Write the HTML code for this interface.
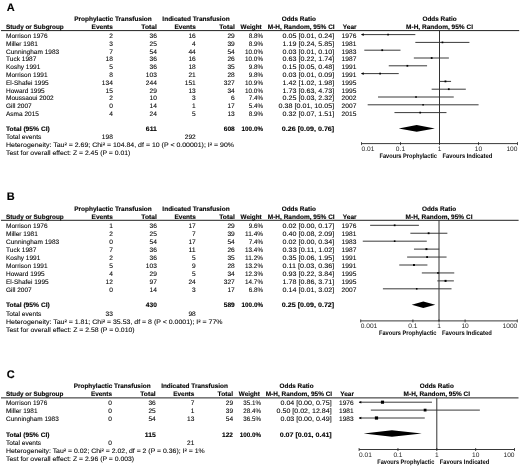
<!DOCTYPE html>
<html><head><meta charset="utf-8"><style>
html,body{margin:0;padding:0;background:#fff;}
body{width:520px;height:466px;overflow:hidden;}
svg{display:block;will-change:transform;font-family:"Liberation Sans",sans-serif;}
text{stroke:#000;stroke-width:0.08px;text-rendering:geometricPrecision;}
text[font-weight=bold]{stroke-width:0.12px;}
text.lt{stroke-width:0;fill:#222;}
text.fv{stroke-width:0;}
</style></head><body>
<svg width="520" height="466" viewBox="0 0 520 466">
<rect width="520" height="466" fill="#fff"/>
<line x1="1.00" y1="30.60" x2="519.20" y2="30.60" stroke="#222" stroke-width="1"/>
<line x1="361.50" y1="34.60" x2="415.33" y2="34.60" stroke="#3a3a3a" stroke-width="1.0"/>
<polygon points="361.10,34.60 363.70,33.30 363.70,35.90" fill="#000"/>
<rect x="387.23" y="33.76" width="1.68" height="1.68" fill="#000"/>
<line x1="415.33" y1="42.40" x2="469.42" y2="42.40" stroke="#3a3a3a" stroke-width="1.0"/>
<rect x="441.60" y="41.56" width="1.69" height="1.69" fill="#000"/>
<line x1="364.30" y1="50.20" x2="400.50" y2="50.20" stroke="#3a3a3a" stroke-width="1.0"/>
<rect x="381.35" y="49.33" width="1.75" height="1.75" fill="#000"/>
<line x1="413.85" y1="58.00" x2="448.88" y2="58.00" stroke="#3a3a3a" stroke-width="1.0"/>
<rect x="430.80" y="57.12" width="1.75" height="1.75" fill="#000"/>
<line x1="388.76" y1="65.80" x2="427.07" y2="65.80" stroke="#3a3a3a" stroke-width="1.0"/>
<rect x="406.50" y="64.93" width="1.74" height="1.74" fill="#000"/>
<line x1="361.50" y1="73.60" x2="398.72" y2="73.60" stroke="#3a3a3a" stroke-width="1.0"/>
<polygon points="361.10,73.60 363.70,72.30 363.70,74.90" fill="#000"/>
<rect x="379.24" y="72.73" width="1.74" height="1.74" fill="#000"/>
<line x1="439.84" y1="81.40" x2="451.07" y2="81.40" stroke="#3a3a3a" stroke-width="1.0"/>
<rect x="444.54" y="80.50" width="1.80" height="1.80" fill="#000"/>
<line x1="431.67" y1="89.20" x2="465.82" y2="89.20" stroke="#3a3a3a" stroke-width="1.0"/>
<rect x="447.91" y="88.33" width="1.75" height="1.75" fill="#000"/>
<line x1="378.01" y1="97.00" x2="453.75" y2="97.00" stroke="#3a3a3a" stroke-width="1.0"/>
<rect x="415.22" y="96.20" width="1.61" height="1.61" fill="#000"/>
<line x1="367.68" y1="104.80" x2="478.58" y2="104.80" stroke="#3a3a3a" stroke-width="1.0"/>
<rect x="422.36" y="104.05" width="1.50" height="1.50" fill="#000"/>
<line x1="394.46" y1="112.60" x2="446.48" y2="112.60" stroke="#3a3a3a" stroke-width="1.0"/>
<rect x="419.36" y="111.76" width="1.69" height="1.69" fill="#000"/>
<polygon points="398.72,128.40 416.68,125.10 434.85,128.40 416.68,131.70" fill="#000"/>
<line x1="439.50" y1="30.60" x2="439.50" y2="143.60" stroke="#333" stroke-width="1.0"/>
<line x1="361.50" y1="143.60" x2="517.50" y2="143.60" stroke="#222" stroke-width="0.9"/>
<line x1="361.50" y1="142.10" x2="361.50" y2="145.10" stroke="#222" stroke-width="0.8"/>
<line x1="400.50" y1="142.10" x2="400.50" y2="145.10" stroke="#222" stroke-width="0.8"/>
<line x1="439.50" y1="142.10" x2="439.50" y2="145.10" stroke="#222" stroke-width="0.8"/>
<line x1="478.50" y1="142.10" x2="478.50" y2="145.10" stroke="#222" stroke-width="0.8"/>
<line x1="517.50" y1="142.10" x2="517.50" y2="145.10" stroke="#222" stroke-width="0.8"/>
<line x1="1.00" y1="220.30" x2="518.60" y2="220.30" stroke="#222" stroke-width="1"/>
<line x1="370.14" y1="225.30" x2="418.91" y2="225.30" stroke="#3a3a3a" stroke-width="1.0"/>
<rect x="393.79" y="224.44" width="1.73" height="1.73" fill="#000"/>
<line x1="410.37" y1="233.24" x2="447.36" y2="233.24" stroke="#3a3a3a" stroke-width="1.0"/>
<rect x="427.70" y="232.33" width="1.83" height="1.83" fill="#000"/>
<line x1="362.77" y1="241.18" x2="426.77" y2="241.18" stroke="#3a3a3a" stroke-width="1.0"/>
<rect x="393.85" y="240.38" width="1.61" height="1.61" fill="#000"/>
<line x1="413.98" y1="249.12" x2="439.22" y2="249.12" stroke="#3a3a3a" stroke-width="1.0"/>
<rect x="425.46" y="248.15" width="1.94" height="1.94" fill="#000"/>
<line x1="407.11" y1="257.06" x2="446.57" y2="257.06" stroke="#3a3a3a" stroke-width="1.0"/>
<rect x="426.19" y="256.15" width="1.82" height="1.82" fill="#000"/>
<line x1="399.25" y1="265.00" x2="427.42" y2="265.00" stroke="#3a3a3a" stroke-width="1.0"/>
<rect x="413.02" y="264.04" width="1.93" height="1.93" fill="#000"/>
<line x1="421.84" y1="272.94" x2="454.25" y2="272.94" stroke="#3a3a3a" stroke-width="1.0"/>
<rect x="437.24" y="272.00" width="1.88" height="1.88" fill="#000"/>
<line x1="437.29" y1="280.88" x2="453.86" y2="280.88" stroke="#3a3a3a" stroke-width="1.0"/>
<rect x="444.53" y="279.88" width="2.01" height="2.01" fill="#000"/>
<line x1="382.92" y1="288.82" x2="451.53" y2="288.82" stroke="#3a3a3a" stroke-width="1.0"/>
<rect x="415.93" y="288.03" width="1.57" height="1.57" fill="#000"/>
<polygon points="411.71,304.70 423.29,301.40 435.28,304.70 423.29,308.00" fill="#000"/>
<line x1="439.00" y1="220.30" x2="439.00" y2="320.90" stroke="#333" stroke-width="1.0"/>
<line x1="360.70" y1="320.90" x2="517.30" y2="320.90" stroke="#222" stroke-width="0.9"/>
<line x1="360.70" y1="319.40" x2="360.70" y2="322.40" stroke="#222" stroke-width="0.8"/>
<line x1="412.90" y1="319.40" x2="412.90" y2="322.40" stroke="#222" stroke-width="0.8"/>
<line x1="439.00" y1="319.40" x2="439.00" y2="322.40" stroke="#222" stroke-width="0.8"/>
<line x1="465.10" y1="319.40" x2="465.10" y2="322.40" stroke="#222" stroke-width="0.8"/>
<line x1="517.30" y1="319.40" x2="517.30" y2="322.40" stroke="#222" stroke-width="0.8"/>
<line x1="1.00" y1="397.90" x2="518.50" y2="397.90" stroke="#222" stroke-width="1"/>
<line x1="359.10" y1="402.20" x2="431.95" y2="402.20" stroke="#3a3a3a" stroke-width="1.0"/>
<polygon points="358.70,402.20 361.30,400.90 361.30,403.50" fill="#000"/>
<rect x="380.92" y="400.63" width="3.13" height="3.13" fill="#000"/>
<line x1="370.80" y1="410.10" x2="479.87" y2="410.10" stroke="#3a3a3a" stroke-width="1.0"/>
<rect x="423.72" y="408.72" width="2.76" height="2.76" fill="#000"/>
<line x1="359.10" y1="418.00" x2="424.76" y2="418.00" stroke="#3a3a3a" stroke-width="1.0"/>
<polygon points="358.70,418.00 361.30,416.70 361.30,419.30" fill="#000"/>
<rect x="374.87" y="416.40" width="3.21" height="3.21" fill="#000"/>
<polygon points="363.66,433.50 391.93,430.20 421.76,433.50 391.93,436.80" fill="#000"/>
<line x1="436.80" y1="397.90" x2="436.80" y2="449.50" stroke="#333" stroke-width="1.0"/>
<line x1="359.10" y1="449.50" x2="514.50" y2="449.50" stroke="#222" stroke-width="0.9"/>
<line x1="359.10" y1="448.00" x2="359.10" y2="451.00" stroke="#222" stroke-width="0.8"/>
<line x1="397.95" y1="448.00" x2="397.95" y2="451.00" stroke="#222" stroke-width="0.8"/>
<line x1="436.80" y1="448.00" x2="436.80" y2="451.00" stroke="#222" stroke-width="0.8"/>
<line x1="475.65" y1="448.00" x2="475.65" y2="451.00" stroke="#222" stroke-width="0.8"/>
<line x1="514.50" y1="448.00" x2="514.50" y2="451.00" stroke="#222" stroke-width="0.8"/>
<g>
<text x="6.70" y="10.70" font-size="11" font-weight="bold" textLength="7.94" lengthAdjust="spacingAndGlyphs" fill="#000">A</text>
<text x="113.00" y="20.90" font-size="6.5" text-anchor="middle" font-weight="bold" textLength="77.50" lengthAdjust="spacingAndGlyphs" fill="#000">Prophylactic Transfusion</text>
<text x="196.00" y="20.90" font-size="6.5" text-anchor="middle" font-weight="bold" textLength="67.30" lengthAdjust="spacingAndGlyphs" fill="#000">Indicated Transfusion</text>
<text x="298.80" y="20.90" font-size="6.5" text-anchor="middle" font-weight="bold" textLength="34.20" lengthAdjust="spacingAndGlyphs" fill="#000">Odds Ratio</text>
<text x="439.50" y="20.90" font-size="6.5" text-anchor="middle" font-weight="bold" textLength="34.20" lengthAdjust="spacingAndGlyphs" fill="#000">Odds Ratio</text>
<text x="6.00" y="28.80" font-size="6.5" font-weight="bold" textLength="57.70" lengthAdjust="spacingAndGlyphs" fill="#000">Study or Subgroup</text>
<text x="112.90" y="28.80" font-size="6.5" text-anchor="end" font-weight="bold" textLength="21.32" lengthAdjust="spacingAndGlyphs" fill="#000">Events</text>
<text x="156.90" y="28.80" font-size="6.5" text-anchor="end" font-weight="bold" textLength="15.53" lengthAdjust="spacingAndGlyphs" fill="#000">Total</text>
<text x="195.80" y="28.80" font-size="6.5" text-anchor="end" font-weight="bold" textLength="21.32" lengthAdjust="spacingAndGlyphs" fill="#000">Events</text>
<text x="234.80" y="28.80" font-size="6.5" text-anchor="end" font-weight="bold" textLength="15.53" lengthAdjust="spacingAndGlyphs" fill="#000">Total</text>
<text x="240.60" y="28.80" font-size="6.5" font-weight="bold" textLength="21.10" lengthAdjust="spacingAndGlyphs" fill="#000">Weight</text>
<text x="301.20" y="28.80" font-size="6.5" text-anchor="middle" font-weight="bold" textLength="66.90" lengthAdjust="spacingAndGlyphs" fill="#000">M-H, Random, 95% CI</text>
<text x="342.80" y="28.80" font-size="6.5" font-weight="bold" textLength="13.80" lengthAdjust="spacingAndGlyphs" fill="#000">Year</text>
<text x="439.50" y="28.80" font-size="6.5" text-anchor="middle" font-weight="bold" textLength="66.90" lengthAdjust="spacingAndGlyphs" fill="#000">M-H, Random, 95% CI</text>
<text x="6.00" y="37.90" font-size="6.5" textLength="41.55" lengthAdjust="spacingAndGlyphs" fill="#000">Morrison 1976</text>
<text x="112.90" y="37.90" font-size="6.5" text-anchor="end" textLength="3.69" lengthAdjust="spacingAndGlyphs" fill="#000">2</text>
<text x="156.90" y="37.90" font-size="6.5" text-anchor="end" textLength="7.37" lengthAdjust="spacingAndGlyphs" fill="#000">36</text>
<text x="195.80" y="37.90" font-size="6.5" text-anchor="end" textLength="7.37" lengthAdjust="spacingAndGlyphs" fill="#000">16</text>
<text x="234.80" y="37.90" font-size="6.5" text-anchor="end" textLength="7.37" lengthAdjust="spacingAndGlyphs" fill="#000">29</text>
<text x="263.00" y="37.90" font-size="6.5" text-anchor="end" textLength="14.37" lengthAdjust="spacingAndGlyphs" fill="#000">8.8%</text>
<text x="334.20" y="37.90" font-size="6.5" text-anchor="end" textLength="51.59" lengthAdjust="spacingAndGlyphs" fill="#000">0.05 [0.01, 0.24]</text>
<text x="341.60" y="37.90" font-size="6.5" textLength="14.75" lengthAdjust="spacingAndGlyphs" fill="#000">1976</text>
<text x="6.00" y="45.70" font-size="6.5" textLength="31.79" lengthAdjust="spacingAndGlyphs" fill="#000">Miller 1981</text>
<text x="112.90" y="45.70" font-size="6.5" text-anchor="end" textLength="3.69" lengthAdjust="spacingAndGlyphs" fill="#000">3</text>
<text x="156.90" y="45.70" font-size="6.5" text-anchor="end" textLength="7.37" lengthAdjust="spacingAndGlyphs" fill="#000">25</text>
<text x="195.80" y="45.70" font-size="6.5" text-anchor="end" textLength="3.69" lengthAdjust="spacingAndGlyphs" fill="#000">4</text>
<text x="234.80" y="45.70" font-size="6.5" text-anchor="end" textLength="7.37" lengthAdjust="spacingAndGlyphs" fill="#000">39</text>
<text x="263.00" y="45.70" font-size="6.5" text-anchor="end" textLength="14.37" lengthAdjust="spacingAndGlyphs" fill="#000">8.9%</text>
<text x="334.20" y="45.70" font-size="6.5" text-anchor="end" textLength="51.59" lengthAdjust="spacingAndGlyphs" fill="#000">1.19 [0.24, 5.85]</text>
<text x="341.60" y="45.70" font-size="6.5" textLength="14.75" lengthAdjust="spacingAndGlyphs" fill="#000">1981</text>
<text x="6.00" y="53.50" font-size="6.5" textLength="53.12" lengthAdjust="spacingAndGlyphs" fill="#000">Cunningham 1983</text>
<text x="112.90" y="53.50" font-size="6.5" text-anchor="end" textLength="3.69" lengthAdjust="spacingAndGlyphs" fill="#000">7</text>
<text x="156.90" y="53.50" font-size="6.5" text-anchor="end" textLength="7.37" lengthAdjust="spacingAndGlyphs" fill="#000">54</text>
<text x="195.80" y="53.50" font-size="6.5" text-anchor="end" textLength="7.37" lengthAdjust="spacingAndGlyphs" fill="#000">44</text>
<text x="234.80" y="53.50" font-size="6.5" text-anchor="end" textLength="7.37" lengthAdjust="spacingAndGlyphs" fill="#000">54</text>
<text x="263.00" y="53.50" font-size="6.5" text-anchor="end" textLength="17.88" lengthAdjust="spacingAndGlyphs" fill="#000">10.0%</text>
<text x="334.20" y="53.50" font-size="6.5" text-anchor="end" textLength="51.59" lengthAdjust="spacingAndGlyphs" fill="#000">0.03 [0.01, 0.10]</text>
<text x="341.60" y="53.50" font-size="6.5" textLength="14.75" lengthAdjust="spacingAndGlyphs" fill="#000">1983</text>
<text x="6.00" y="61.30" font-size="6.5" textLength="30.35" lengthAdjust="spacingAndGlyphs" fill="#000">Tuck 1987</text>
<text x="112.90" y="61.30" font-size="6.5" text-anchor="end" textLength="7.37" lengthAdjust="spacingAndGlyphs" fill="#000">18</text>
<text x="156.90" y="61.30" font-size="6.5" text-anchor="end" textLength="7.37" lengthAdjust="spacingAndGlyphs" fill="#000">36</text>
<text x="195.80" y="61.30" font-size="6.5" text-anchor="end" textLength="7.37" lengthAdjust="spacingAndGlyphs" fill="#000">16</text>
<text x="234.80" y="61.30" font-size="6.5" text-anchor="end" textLength="7.37" lengthAdjust="spacingAndGlyphs" fill="#000">26</text>
<text x="263.00" y="61.30" font-size="6.5" text-anchor="end" textLength="17.88" lengthAdjust="spacingAndGlyphs" fill="#000">10.0%</text>
<text x="334.20" y="61.30" font-size="6.5" text-anchor="end" textLength="51.59" lengthAdjust="spacingAndGlyphs" fill="#000">0.63 [0.22, 1.74]</text>
<text x="341.60" y="61.30" font-size="6.5" textLength="14.75" lengthAdjust="spacingAndGlyphs" fill="#000">1987</text>
<text x="6.00" y="69.10" font-size="6.5" textLength="34.33" lengthAdjust="spacingAndGlyphs" fill="#000">Koshy 1991</text>
<text x="112.90" y="69.10" font-size="6.5" text-anchor="end" textLength="3.69" lengthAdjust="spacingAndGlyphs" fill="#000">5</text>
<text x="156.90" y="69.10" font-size="6.5" text-anchor="end" textLength="7.37" lengthAdjust="spacingAndGlyphs" fill="#000">36</text>
<text x="195.80" y="69.10" font-size="6.5" text-anchor="end" textLength="7.37" lengthAdjust="spacingAndGlyphs" fill="#000">18</text>
<text x="234.80" y="69.10" font-size="6.5" text-anchor="end" textLength="7.37" lengthAdjust="spacingAndGlyphs" fill="#000">35</text>
<text x="263.00" y="69.10" font-size="6.5" text-anchor="end" textLength="14.37" lengthAdjust="spacingAndGlyphs" fill="#000">9.8%</text>
<text x="334.20" y="69.10" font-size="6.5" text-anchor="end" textLength="51.59" lengthAdjust="spacingAndGlyphs" fill="#000">0.15 [0.05, 0.48]</text>
<text x="341.60" y="69.10" font-size="6.5" textLength="14.75" lengthAdjust="spacingAndGlyphs" fill="#000">1991</text>
<text x="6.00" y="76.90" font-size="6.5" textLength="41.55" lengthAdjust="spacingAndGlyphs" fill="#000">Morrison 1991</text>
<text x="112.90" y="76.90" font-size="6.5" text-anchor="end" textLength="3.69" lengthAdjust="spacingAndGlyphs" fill="#000">8</text>
<text x="156.90" y="76.90" font-size="6.5" text-anchor="end" textLength="11.06" lengthAdjust="spacingAndGlyphs" fill="#000">103</text>
<text x="195.80" y="76.90" font-size="6.5" text-anchor="end" textLength="7.37" lengthAdjust="spacingAndGlyphs" fill="#000">21</text>
<text x="234.80" y="76.90" font-size="6.5" text-anchor="end" textLength="7.37" lengthAdjust="spacingAndGlyphs" fill="#000">28</text>
<text x="263.00" y="76.90" font-size="6.5" text-anchor="end" textLength="14.37" lengthAdjust="spacingAndGlyphs" fill="#000">9.8%</text>
<text x="334.20" y="76.90" font-size="6.5" text-anchor="end" textLength="51.59" lengthAdjust="spacingAndGlyphs" fill="#000">0.03 [0.01, 0.09]</text>
<text x="341.60" y="76.90" font-size="6.5" textLength="14.75" lengthAdjust="spacingAndGlyphs" fill="#000">1991</text>
<text x="6.00" y="84.70" font-size="6.5" textLength="42.64" lengthAdjust="spacingAndGlyphs" fill="#000">El-Shafei 1995</text>
<text x="112.90" y="84.70" font-size="6.5" text-anchor="end" textLength="11.06" lengthAdjust="spacingAndGlyphs" fill="#000">134</text>
<text x="156.90" y="84.70" font-size="6.5" text-anchor="end" textLength="11.06" lengthAdjust="spacingAndGlyphs" fill="#000">244</text>
<text x="195.80" y="84.70" font-size="6.5" text-anchor="end" textLength="11.06" lengthAdjust="spacingAndGlyphs" fill="#000">151</text>
<text x="234.80" y="84.70" font-size="6.5" text-anchor="end" textLength="11.06" lengthAdjust="spacingAndGlyphs" fill="#000">327</text>
<text x="263.00" y="84.70" font-size="6.5" text-anchor="end" textLength="17.88" lengthAdjust="spacingAndGlyphs" fill="#000">10.9%</text>
<text x="334.20" y="84.70" font-size="6.5" text-anchor="end" textLength="51.59" lengthAdjust="spacingAndGlyphs" fill="#000">1.42 [1.02, 1.98]</text>
<text x="341.60" y="84.70" font-size="6.5" textLength="14.75" lengthAdjust="spacingAndGlyphs" fill="#000">1995</text>
<text x="6.00" y="92.50" font-size="6.5" textLength="38.66" lengthAdjust="spacingAndGlyphs" fill="#000">Howard 1995</text>
<text x="112.90" y="92.50" font-size="6.5" text-anchor="end" textLength="7.37" lengthAdjust="spacingAndGlyphs" fill="#000">15</text>
<text x="156.90" y="92.50" font-size="6.5" text-anchor="end" textLength="7.37" lengthAdjust="spacingAndGlyphs" fill="#000">29</text>
<text x="195.80" y="92.50" font-size="6.5" text-anchor="end" textLength="7.37" lengthAdjust="spacingAndGlyphs" fill="#000">13</text>
<text x="234.80" y="92.50" font-size="6.5" text-anchor="end" textLength="7.37" lengthAdjust="spacingAndGlyphs" fill="#000">34</text>
<text x="263.00" y="92.50" font-size="6.5" text-anchor="end" textLength="17.88" lengthAdjust="spacingAndGlyphs" fill="#000">10.0%</text>
<text x="334.20" y="92.50" font-size="6.5" text-anchor="end" textLength="51.59" lengthAdjust="spacingAndGlyphs" fill="#000">1.73 [0.63, 4.73]</text>
<text x="341.60" y="92.50" font-size="6.5" textLength="14.75" lengthAdjust="spacingAndGlyphs" fill="#000">1995</text>
<text x="6.00" y="100.30" font-size="6.5" textLength="47.70" lengthAdjust="spacingAndGlyphs" fill="#000">Moussaoui 2002</text>
<text x="112.90" y="100.30" font-size="6.5" text-anchor="end" textLength="3.69" lengthAdjust="spacingAndGlyphs" fill="#000">2</text>
<text x="156.90" y="100.30" font-size="6.5" text-anchor="end" textLength="7.37" lengthAdjust="spacingAndGlyphs" fill="#000">10</text>
<text x="195.80" y="100.30" font-size="6.5" text-anchor="end" textLength="3.69" lengthAdjust="spacingAndGlyphs" fill="#000">3</text>
<text x="234.80" y="100.30" font-size="6.5" text-anchor="end" textLength="3.69" lengthAdjust="spacingAndGlyphs" fill="#000">6</text>
<text x="263.00" y="100.30" font-size="6.5" text-anchor="end" textLength="14.37" lengthAdjust="spacingAndGlyphs" fill="#000">7.4%</text>
<text x="334.20" y="100.30" font-size="6.5" text-anchor="end" textLength="51.59" lengthAdjust="spacingAndGlyphs" fill="#000">0.25 [0.03, 2.32]</text>
<text x="341.60" y="100.30" font-size="6.5" textLength="14.75" lengthAdjust="spacingAndGlyphs" fill="#000">2002</text>
<text x="6.00" y="108.10" font-size="6.5" textLength="25.65" lengthAdjust="spacingAndGlyphs" fill="#000">Gill 2007</text>
<text x="112.90" y="108.10" font-size="6.5" text-anchor="end" textLength="3.69" lengthAdjust="spacingAndGlyphs" fill="#000">0</text>
<text x="156.90" y="108.10" font-size="6.5" text-anchor="end" textLength="7.37" lengthAdjust="spacingAndGlyphs" fill="#000">14</text>
<text x="195.80" y="108.10" font-size="6.5" text-anchor="end" textLength="3.69" lengthAdjust="spacingAndGlyphs" fill="#000">1</text>
<text x="234.80" y="108.10" font-size="6.5" text-anchor="end" textLength="7.37" lengthAdjust="spacingAndGlyphs" fill="#000">17</text>
<text x="263.00" y="108.10" font-size="6.5" text-anchor="end" textLength="14.37" lengthAdjust="spacingAndGlyphs" fill="#000">5.4%</text>
<text x="334.20" y="108.10" font-size="6.5" text-anchor="end" textLength="55.56" lengthAdjust="spacingAndGlyphs" fill="#000">0.38 [0.01, 10.05]</text>
<text x="341.60" y="108.10" font-size="6.5" textLength="14.75" lengthAdjust="spacingAndGlyphs" fill="#000">2007</text>
<text x="6.00" y="115.90" font-size="6.5" textLength="32.88" lengthAdjust="spacingAndGlyphs" fill="#000">Asma 2015</text>
<text x="112.90" y="115.90" font-size="6.5" text-anchor="end" textLength="3.69" lengthAdjust="spacingAndGlyphs" fill="#000">4</text>
<text x="156.90" y="115.90" font-size="6.5" text-anchor="end" textLength="7.37" lengthAdjust="spacingAndGlyphs" fill="#000">24</text>
<text x="195.80" y="115.90" font-size="6.5" text-anchor="end" textLength="3.69" lengthAdjust="spacingAndGlyphs" fill="#000">5</text>
<text x="234.80" y="115.90" font-size="6.5" text-anchor="end" textLength="7.37" lengthAdjust="spacingAndGlyphs" fill="#000">13</text>
<text x="263.00" y="115.90" font-size="6.5" text-anchor="end" textLength="14.37" lengthAdjust="spacingAndGlyphs" fill="#000">8.9%</text>
<text x="334.20" y="115.90" font-size="6.5" text-anchor="end" textLength="51.59" lengthAdjust="spacingAndGlyphs" fill="#000">0.32 [0.07, 1.51]</text>
<text x="341.60" y="115.90" font-size="6.5" textLength="14.75" lengthAdjust="spacingAndGlyphs" fill="#000">2015</text>
<text x="6.00" y="130.80" font-size="6.5" font-weight="bold" textLength="43.84" lengthAdjust="spacingAndGlyphs" fill="#000">Total (95% CI)</text>
<text x="156.90" y="130.80" font-size="6.5" text-anchor="end" font-weight="bold" textLength="11.06" lengthAdjust="spacingAndGlyphs" fill="#000">611</text>
<text x="234.80" y="130.80" font-size="6.5" text-anchor="end" font-weight="bold" textLength="11.06" lengthAdjust="spacingAndGlyphs" fill="#000">608</text>
<text x="263.00" y="130.80" font-size="6.5" text-anchor="end" font-weight="bold" textLength="21.38" lengthAdjust="spacingAndGlyphs" fill="#000">100.0%</text>
<text x="334.20" y="130.80" font-size="6.5" text-anchor="end" font-weight="bold" textLength="52.37" lengthAdjust="spacingAndGlyphs" fill="#000">0.26 [0.09, 0.76]</text>
<text x="6.00" y="139.10" font-size="6.5" textLength="35.41" lengthAdjust="spacingAndGlyphs" fill="#000">Total events</text>
<text x="112.90" y="139.10" font-size="6.5" text-anchor="end" textLength="11.06" lengthAdjust="spacingAndGlyphs" fill="#000">198</text>
<text x="195.80" y="139.10" font-size="6.5" text-anchor="end" textLength="11.06" lengthAdjust="spacingAndGlyphs" fill="#000">292</text>
<text x="6.00" y="147.00" font-size="6.5" textLength="228.00" lengthAdjust="spacingAndGlyphs" fill="#000">Heterogeneity: Tau² = 2.69; Chi² = 104.84, df = 10 (P &lt; 0.00001); I² = 90%</text>
<text x="6.00" y="154.60" font-size="6.5" textLength="124.30" lengthAdjust="spacingAndGlyphs" fill="#000">Test for overall effect: Z = 2.45 (P = 0.01)</text>
<text x="361.50" y="151.10" font-size="6.5" textLength="12.90" lengthAdjust="spacingAndGlyphs" fill="#000" class="lt">0.01</text>
<text x="400.50" y="151.10" font-size="6.5" text-anchor="middle" textLength="9.22" lengthAdjust="spacingAndGlyphs" fill="#000" class="lt">0.1</text>
<text x="439.50" y="151.10" font-size="6.5" text-anchor="middle" textLength="3.69" lengthAdjust="spacingAndGlyphs" fill="#000" class="lt">1</text>
<text x="478.50" y="151.10" font-size="6.5" text-anchor="middle" textLength="7.37" lengthAdjust="spacingAndGlyphs" fill="#000" class="lt">10</text>
<text x="517.50" y="151.10" font-size="6.5" text-anchor="end" textLength="11.06" lengthAdjust="spacingAndGlyphs" fill="#000" class="lt">100</text>
<text x="437.00" y="157.80" font-size="6.5" text-anchor="end" font-weight="bold" textLength="57.50" lengthAdjust="spacingAndGlyphs" fill="#000" class="fv">Favours Prophylactic</text>
<text x="442.50" y="157.80" font-size="6.5" font-weight="bold" textLength="49.80" lengthAdjust="spacingAndGlyphs" fill="#000" class="fv">Favours Indicated</text>
<text x="6.70" y="199.90" font-size="11" font-weight="bold" textLength="7.94" lengthAdjust="spacingAndGlyphs" fill="#000">B</text>
<text x="113.00" y="210.50" font-size="6.5" text-anchor="middle" font-weight="bold" textLength="77.50" lengthAdjust="spacingAndGlyphs" fill="#000">Prophylactic Transfusion</text>
<text x="196.00" y="210.50" font-size="6.5" text-anchor="middle" font-weight="bold" textLength="67.30" lengthAdjust="spacingAndGlyphs" fill="#000">Indicated Transfusion</text>
<text x="298.80" y="210.50" font-size="6.5" text-anchor="middle" font-weight="bold" textLength="34.20" lengthAdjust="spacingAndGlyphs" fill="#000">Odds Ratio</text>
<text x="439.00" y="210.50" font-size="6.5" text-anchor="middle" font-weight="bold" textLength="34.20" lengthAdjust="spacingAndGlyphs" fill="#000">Odds Ratio</text>
<text x="6.00" y="218.90" font-size="6.5" font-weight="bold" textLength="57.70" lengthAdjust="spacingAndGlyphs" fill="#000">Study or Subgroup</text>
<text x="112.90" y="218.90" font-size="6.5" text-anchor="end" font-weight="bold" textLength="21.32" lengthAdjust="spacingAndGlyphs" fill="#000">Events</text>
<text x="156.90" y="218.90" font-size="6.5" text-anchor="end" font-weight="bold" textLength="15.53" lengthAdjust="spacingAndGlyphs" fill="#000">Total</text>
<text x="195.80" y="218.90" font-size="6.5" text-anchor="end" font-weight="bold" textLength="21.32" lengthAdjust="spacingAndGlyphs" fill="#000">Events</text>
<text x="234.80" y="218.90" font-size="6.5" text-anchor="end" font-weight="bold" textLength="15.53" lengthAdjust="spacingAndGlyphs" fill="#000">Total</text>
<text x="240.60" y="218.90" font-size="6.5" font-weight="bold" textLength="21.10" lengthAdjust="spacingAndGlyphs" fill="#000">Weight</text>
<text x="301.20" y="218.90" font-size="6.5" text-anchor="middle" font-weight="bold" textLength="66.90" lengthAdjust="spacingAndGlyphs" fill="#000">M-H, Random, 95% CI</text>
<text x="342.80" y="218.90" font-size="6.5" font-weight="bold" textLength="13.80" lengthAdjust="spacingAndGlyphs" fill="#000">Year</text>
<text x="439.00" y="218.90" font-size="6.5" text-anchor="middle" font-weight="bold" textLength="66.90" lengthAdjust="spacingAndGlyphs" fill="#000">M-H, Random, 95% CI</text>
<text x="6.00" y="228.20" font-size="6.5" textLength="41.55" lengthAdjust="spacingAndGlyphs" fill="#000">Morrison 1976</text>
<text x="112.90" y="228.20" font-size="6.5" text-anchor="end" textLength="3.69" lengthAdjust="spacingAndGlyphs" fill="#000">1</text>
<text x="156.90" y="228.20" font-size="6.5" text-anchor="end" textLength="7.37" lengthAdjust="spacingAndGlyphs" fill="#000">36</text>
<text x="195.80" y="228.20" font-size="6.5" text-anchor="end" textLength="7.37" lengthAdjust="spacingAndGlyphs" fill="#000">17</text>
<text x="234.80" y="228.20" font-size="6.5" text-anchor="end" textLength="7.37" lengthAdjust="spacingAndGlyphs" fill="#000">29</text>
<text x="263.00" y="228.20" font-size="6.5" text-anchor="end" textLength="14.37" lengthAdjust="spacingAndGlyphs" fill="#000">9.6%</text>
<text x="334.20" y="228.20" font-size="6.5" text-anchor="end" textLength="51.59" lengthAdjust="spacingAndGlyphs" fill="#000">0.02 [0.00, 0.17]</text>
<text x="341.60" y="228.20" font-size="6.5" textLength="14.75" lengthAdjust="spacingAndGlyphs" fill="#000">1976</text>
<text x="6.00" y="236.14" font-size="6.5" textLength="31.79" lengthAdjust="spacingAndGlyphs" fill="#000">Miller 1981</text>
<text x="112.90" y="236.14" font-size="6.5" text-anchor="end" textLength="3.69" lengthAdjust="spacingAndGlyphs" fill="#000">2</text>
<text x="156.90" y="236.14" font-size="6.5" text-anchor="end" textLength="7.37" lengthAdjust="spacingAndGlyphs" fill="#000">25</text>
<text x="195.80" y="236.14" font-size="6.5" text-anchor="end" textLength="3.69" lengthAdjust="spacingAndGlyphs" fill="#000">7</text>
<text x="234.80" y="236.14" font-size="6.5" text-anchor="end" textLength="7.37" lengthAdjust="spacingAndGlyphs" fill="#000">39</text>
<text x="263.00" y="236.14" font-size="6.5" text-anchor="end" textLength="17.88" lengthAdjust="spacingAndGlyphs" fill="#000">11.4%</text>
<text x="334.20" y="236.14" font-size="6.5" text-anchor="end" textLength="51.59" lengthAdjust="spacingAndGlyphs" fill="#000">0.40 [0.08, 2.09]</text>
<text x="341.60" y="236.14" font-size="6.5" textLength="14.75" lengthAdjust="spacingAndGlyphs" fill="#000">1981</text>
<text x="6.00" y="244.08" font-size="6.5" textLength="53.12" lengthAdjust="spacingAndGlyphs" fill="#000">Cunningham 1983</text>
<text x="112.90" y="244.08" font-size="6.5" text-anchor="end" textLength="3.69" lengthAdjust="spacingAndGlyphs" fill="#000">0</text>
<text x="156.90" y="244.08" font-size="6.5" text-anchor="end" textLength="7.37" lengthAdjust="spacingAndGlyphs" fill="#000">54</text>
<text x="195.80" y="244.08" font-size="6.5" text-anchor="end" textLength="7.37" lengthAdjust="spacingAndGlyphs" fill="#000">17</text>
<text x="234.80" y="244.08" font-size="6.5" text-anchor="end" textLength="7.37" lengthAdjust="spacingAndGlyphs" fill="#000">54</text>
<text x="263.00" y="244.08" font-size="6.5" text-anchor="end" textLength="14.37" lengthAdjust="spacingAndGlyphs" fill="#000">7.4%</text>
<text x="334.20" y="244.08" font-size="6.5" text-anchor="end" textLength="51.59" lengthAdjust="spacingAndGlyphs" fill="#000">0.02 [0.00, 0.34]</text>
<text x="341.60" y="244.08" font-size="6.5" textLength="14.75" lengthAdjust="spacingAndGlyphs" fill="#000">1983</text>
<text x="6.00" y="252.02" font-size="6.5" textLength="30.35" lengthAdjust="spacingAndGlyphs" fill="#000">Tuck 1987</text>
<text x="112.90" y="252.02" font-size="6.5" text-anchor="end" textLength="3.69" lengthAdjust="spacingAndGlyphs" fill="#000">7</text>
<text x="156.90" y="252.02" font-size="6.5" text-anchor="end" textLength="7.37" lengthAdjust="spacingAndGlyphs" fill="#000">36</text>
<text x="195.80" y="252.02" font-size="6.5" text-anchor="end" textLength="7.37" lengthAdjust="spacingAndGlyphs" fill="#000">11</text>
<text x="234.80" y="252.02" font-size="6.5" text-anchor="end" textLength="7.37" lengthAdjust="spacingAndGlyphs" fill="#000">26</text>
<text x="263.00" y="252.02" font-size="6.5" text-anchor="end" textLength="17.88" lengthAdjust="spacingAndGlyphs" fill="#000">13.4%</text>
<text x="334.20" y="252.02" font-size="6.5" text-anchor="end" textLength="51.59" lengthAdjust="spacingAndGlyphs" fill="#000">0.33 [0.11, 1.02]</text>
<text x="341.60" y="252.02" font-size="6.5" textLength="14.75" lengthAdjust="spacingAndGlyphs" fill="#000">1987</text>
<text x="6.00" y="259.96" font-size="6.5" textLength="34.33" lengthAdjust="spacingAndGlyphs" fill="#000">Koshy 1991</text>
<text x="112.90" y="259.96" font-size="6.5" text-anchor="end" textLength="3.69" lengthAdjust="spacingAndGlyphs" fill="#000">2</text>
<text x="156.90" y="259.96" font-size="6.5" text-anchor="end" textLength="7.37" lengthAdjust="spacingAndGlyphs" fill="#000">36</text>
<text x="195.80" y="259.96" font-size="6.5" text-anchor="end" textLength="3.69" lengthAdjust="spacingAndGlyphs" fill="#000">5</text>
<text x="234.80" y="259.96" font-size="6.5" text-anchor="end" textLength="7.37" lengthAdjust="spacingAndGlyphs" fill="#000">35</text>
<text x="263.00" y="259.96" font-size="6.5" text-anchor="end" textLength="17.88" lengthAdjust="spacingAndGlyphs" fill="#000">11.2%</text>
<text x="334.20" y="259.96" font-size="6.5" text-anchor="end" textLength="51.59" lengthAdjust="spacingAndGlyphs" fill="#000">0.35 [0.06, 1.95]</text>
<text x="341.60" y="259.96" font-size="6.5" textLength="14.75" lengthAdjust="spacingAndGlyphs" fill="#000">1991</text>
<text x="6.00" y="267.90" font-size="6.5" textLength="41.55" lengthAdjust="spacingAndGlyphs" fill="#000">Morrison 1991</text>
<text x="112.90" y="267.90" font-size="6.5" text-anchor="end" textLength="3.69" lengthAdjust="spacingAndGlyphs" fill="#000">5</text>
<text x="156.90" y="267.90" font-size="6.5" text-anchor="end" textLength="11.06" lengthAdjust="spacingAndGlyphs" fill="#000">103</text>
<text x="195.80" y="267.90" font-size="6.5" text-anchor="end" textLength="3.69" lengthAdjust="spacingAndGlyphs" fill="#000">9</text>
<text x="234.80" y="267.90" font-size="6.5" text-anchor="end" textLength="7.37" lengthAdjust="spacingAndGlyphs" fill="#000">28</text>
<text x="263.00" y="267.90" font-size="6.5" text-anchor="end" textLength="17.88" lengthAdjust="spacingAndGlyphs" fill="#000">13.2%</text>
<text x="334.20" y="267.90" font-size="6.5" text-anchor="end" textLength="51.59" lengthAdjust="spacingAndGlyphs" fill="#000">0.11 [0.03, 0.36]</text>
<text x="341.60" y="267.90" font-size="6.5" textLength="14.75" lengthAdjust="spacingAndGlyphs" fill="#000">1991</text>
<text x="6.00" y="275.84" font-size="6.5" textLength="38.66" lengthAdjust="spacingAndGlyphs" fill="#000">Howard 1995</text>
<text x="112.90" y="275.84" font-size="6.5" text-anchor="end" textLength="3.69" lengthAdjust="spacingAndGlyphs" fill="#000">4</text>
<text x="156.90" y="275.84" font-size="6.5" text-anchor="end" textLength="7.37" lengthAdjust="spacingAndGlyphs" fill="#000">29</text>
<text x="195.80" y="275.84" font-size="6.5" text-anchor="end" textLength="3.69" lengthAdjust="spacingAndGlyphs" fill="#000">5</text>
<text x="234.80" y="275.84" font-size="6.5" text-anchor="end" textLength="7.37" lengthAdjust="spacingAndGlyphs" fill="#000">34</text>
<text x="263.00" y="275.84" font-size="6.5" text-anchor="end" textLength="17.88" lengthAdjust="spacingAndGlyphs" fill="#000">12.3%</text>
<text x="334.20" y="275.84" font-size="6.5" text-anchor="end" textLength="51.59" lengthAdjust="spacingAndGlyphs" fill="#000">0.93 [0.22, 3.84]</text>
<text x="341.60" y="275.84" font-size="6.5" textLength="14.75" lengthAdjust="spacingAndGlyphs" fill="#000">1995</text>
<text x="6.00" y="283.78" font-size="6.5" textLength="42.64" lengthAdjust="spacingAndGlyphs" fill="#000">El-Shafei 1995</text>
<text x="112.90" y="283.78" font-size="6.5" text-anchor="end" textLength="7.37" lengthAdjust="spacingAndGlyphs" fill="#000">12</text>
<text x="156.90" y="283.78" font-size="6.5" text-anchor="end" textLength="7.37" lengthAdjust="spacingAndGlyphs" fill="#000">97</text>
<text x="195.80" y="283.78" font-size="6.5" text-anchor="end" textLength="7.37" lengthAdjust="spacingAndGlyphs" fill="#000">24</text>
<text x="234.80" y="283.78" font-size="6.5" text-anchor="end" textLength="11.06" lengthAdjust="spacingAndGlyphs" fill="#000">327</text>
<text x="263.00" y="283.78" font-size="6.5" text-anchor="end" textLength="17.88" lengthAdjust="spacingAndGlyphs" fill="#000">14.7%</text>
<text x="334.20" y="283.78" font-size="6.5" text-anchor="end" textLength="51.59" lengthAdjust="spacingAndGlyphs" fill="#000">1.78 [0.86, 3.71]</text>
<text x="341.60" y="283.78" font-size="6.5" textLength="14.75" lengthAdjust="spacingAndGlyphs" fill="#000">1995</text>
<text x="6.00" y="291.72" font-size="6.5" textLength="25.65" lengthAdjust="spacingAndGlyphs" fill="#000">Gill 2007</text>
<text x="112.90" y="291.72" font-size="6.5" text-anchor="end" textLength="3.69" lengthAdjust="spacingAndGlyphs" fill="#000">0</text>
<text x="156.90" y="291.72" font-size="6.5" text-anchor="end" textLength="7.37" lengthAdjust="spacingAndGlyphs" fill="#000">14</text>
<text x="195.80" y="291.72" font-size="6.5" text-anchor="end" textLength="3.69" lengthAdjust="spacingAndGlyphs" fill="#000">3</text>
<text x="234.80" y="291.72" font-size="6.5" text-anchor="end" textLength="7.37" lengthAdjust="spacingAndGlyphs" fill="#000">17</text>
<text x="263.00" y="291.72" font-size="6.5" text-anchor="end" textLength="14.37" lengthAdjust="spacingAndGlyphs" fill="#000">6.8%</text>
<text x="334.20" y="291.72" font-size="6.5" text-anchor="end" textLength="51.59" lengthAdjust="spacingAndGlyphs" fill="#000">0.14 [0.01, 3.02]</text>
<text x="341.60" y="291.72" font-size="6.5" textLength="14.75" lengthAdjust="spacingAndGlyphs" fill="#000">2007</text>
<text x="6.00" y="307.20" font-size="6.5" font-weight="bold" textLength="43.84" lengthAdjust="spacingAndGlyphs" fill="#000">Total (95% CI)</text>
<text x="156.90" y="307.20" font-size="6.5" text-anchor="end" font-weight="bold" textLength="11.06" lengthAdjust="spacingAndGlyphs" fill="#000">430</text>
<text x="234.80" y="307.20" font-size="6.5" text-anchor="end" font-weight="bold" textLength="11.06" lengthAdjust="spacingAndGlyphs" fill="#000">589</text>
<text x="263.00" y="307.20" font-size="6.5" text-anchor="end" font-weight="bold" textLength="21.38" lengthAdjust="spacingAndGlyphs" fill="#000">100.0%</text>
<text x="334.20" y="307.20" font-size="6.5" text-anchor="end" font-weight="bold" textLength="52.37" lengthAdjust="spacingAndGlyphs" fill="#000">0.25 [0.09, 0.72]</text>
<text x="6.00" y="315.80" font-size="6.5" textLength="35.41" lengthAdjust="spacingAndGlyphs" fill="#000">Total events</text>
<text x="112.90" y="315.80" font-size="6.5" text-anchor="end" textLength="7.37" lengthAdjust="spacingAndGlyphs" fill="#000">33</text>
<text x="195.80" y="315.80" font-size="6.5" text-anchor="end" textLength="7.37" lengthAdjust="spacingAndGlyphs" fill="#000">98</text>
<text x="6.00" y="324.10" font-size="6.5" textLength="216.50" lengthAdjust="spacingAndGlyphs" fill="#000">Heterogeneity: Tau² = 1.81; Chi² = 35.53, df = 8 (P &lt; 0.0001); I² = 77%</text>
<text x="6.00" y="331.90" font-size="6.5" textLength="128.60" lengthAdjust="spacingAndGlyphs" fill="#000">Test for overall effect: Z = 2.58 (P = 0.010)</text>
<text x="360.70" y="328.30" font-size="6.5" textLength="16.59" lengthAdjust="spacingAndGlyphs" fill="#000" class="lt">0.001</text>
<text x="412.90" y="328.30" font-size="6.5" text-anchor="middle" textLength="9.22" lengthAdjust="spacingAndGlyphs" fill="#000" class="lt">0.1</text>
<text x="439.00" y="328.30" font-size="6.5" text-anchor="middle" textLength="3.69" lengthAdjust="spacingAndGlyphs" fill="#000" class="lt">1</text>
<text x="465.10" y="328.30" font-size="6.5" text-anchor="middle" textLength="7.37" lengthAdjust="spacingAndGlyphs" fill="#000" class="lt">10</text>
<text x="517.30" y="328.30" font-size="6.5" text-anchor="end" textLength="14.75" lengthAdjust="spacingAndGlyphs" fill="#000" class="lt">1000</text>
<text x="436.50" y="335.10" font-size="6.5" text-anchor="end" font-weight="bold" textLength="57.50" lengthAdjust="spacingAndGlyphs" fill="#000" class="fv">Favours Prophylactic</text>
<text x="442.00" y="335.10" font-size="6.5" font-weight="bold" textLength="49.80" lengthAdjust="spacingAndGlyphs" fill="#000" class="fv">Favours Indicated</text>
<text x="6.70" y="377.50" font-size="11" font-weight="bold" textLength="7.94" lengthAdjust="spacingAndGlyphs" fill="#000">C</text>
<text x="112.15" y="388.40" font-size="6.5" text-anchor="middle" font-weight="bold" textLength="76.92" lengthAdjust="spacingAndGlyphs" fill="#000">Prophylactic Transfusion</text>
<text x="194.53" y="388.40" font-size="6.5" text-anchor="middle" font-weight="bold" textLength="66.80" lengthAdjust="spacingAndGlyphs" fill="#000">Indicated Transfusion</text>
<text x="296.56" y="388.40" font-size="6.5" text-anchor="middle" font-weight="bold" textLength="33.94" lengthAdjust="spacingAndGlyphs" fill="#000">Odds Ratio</text>
<text x="436.80" y="388.40" font-size="6.5" text-anchor="middle" font-weight="bold" textLength="33.94" lengthAdjust="spacingAndGlyphs" fill="#000">Odds Ratio</text>
<text x="6.00" y="396.30" font-size="6.5" font-weight="bold" textLength="57.27" lengthAdjust="spacingAndGlyphs" fill="#000">Study or Subgroup</text>
<text x="112.05" y="396.30" font-size="6.5" text-anchor="end" font-weight="bold" textLength="21.16" lengthAdjust="spacingAndGlyphs" fill="#000">Events</text>
<text x="155.72" y="396.30" font-size="6.5" text-anchor="end" font-weight="bold" textLength="15.41" lengthAdjust="spacingAndGlyphs" fill="#000">Total</text>
<text x="194.33" y="396.30" font-size="6.5" text-anchor="end" font-weight="bold" textLength="21.16" lengthAdjust="spacingAndGlyphs" fill="#000">Events</text>
<text x="233.04" y="396.30" font-size="6.5" text-anchor="end" font-weight="bold" textLength="15.41" lengthAdjust="spacingAndGlyphs" fill="#000">Total</text>
<text x="238.80" y="396.30" font-size="6.5" font-weight="bold" textLength="20.94" lengthAdjust="spacingAndGlyphs" fill="#000">Weight</text>
<text x="298.94" y="396.30" font-size="6.5" text-anchor="middle" font-weight="bold" textLength="66.40" lengthAdjust="spacingAndGlyphs" fill="#000">M-H, Random, 95% CI</text>
<text x="340.23" y="396.30" font-size="6.5" font-weight="bold" textLength="13.70" lengthAdjust="spacingAndGlyphs" fill="#000">Year</text>
<text x="436.80" y="396.30" font-size="6.5" text-anchor="middle" font-weight="bold" textLength="66.40" lengthAdjust="spacingAndGlyphs" fill="#000">M-H, Random, 95% CI</text>
<text x="6.00" y="405.30" font-size="6.5" textLength="41.24" lengthAdjust="spacingAndGlyphs" fill="#000">Morrison 1976</text>
<text x="112.05" y="405.30" font-size="6.5" text-anchor="end" textLength="3.66" lengthAdjust="spacingAndGlyphs" fill="#000">0</text>
<text x="155.72" y="405.30" font-size="6.5" text-anchor="end" textLength="7.32" lengthAdjust="spacingAndGlyphs" fill="#000">36</text>
<text x="194.33" y="405.30" font-size="6.5" text-anchor="end" textLength="3.66" lengthAdjust="spacingAndGlyphs" fill="#000">7</text>
<text x="233.04" y="405.30" font-size="6.5" text-anchor="end" textLength="7.32" lengthAdjust="spacingAndGlyphs" fill="#000">29</text>
<text x="261.03" y="405.30" font-size="6.5" text-anchor="end" textLength="17.74" lengthAdjust="spacingAndGlyphs" fill="#000">35.1%</text>
<text x="331.69" y="405.30" font-size="6.5" text-anchor="end" textLength="51.20" lengthAdjust="spacingAndGlyphs" fill="#000">0.04 [0.00, 0.75]</text>
<text x="339.04" y="405.30" font-size="6.5" textLength="14.64" lengthAdjust="spacingAndGlyphs" fill="#000">1976</text>
<text x="6.00" y="413.20" font-size="6.5" textLength="31.55" lengthAdjust="spacingAndGlyphs" fill="#000">Miller 1981</text>
<text x="112.05" y="413.20" font-size="6.5" text-anchor="end" textLength="3.66" lengthAdjust="spacingAndGlyphs" fill="#000">0</text>
<text x="155.72" y="413.20" font-size="6.5" text-anchor="end" textLength="7.32" lengthAdjust="spacingAndGlyphs" fill="#000">25</text>
<text x="194.33" y="413.20" font-size="6.5" text-anchor="end" textLength="3.66" lengthAdjust="spacingAndGlyphs" fill="#000">1</text>
<text x="233.04" y="413.20" font-size="6.5" text-anchor="end" textLength="7.32" lengthAdjust="spacingAndGlyphs" fill="#000">39</text>
<text x="261.03" y="413.20" font-size="6.5" text-anchor="end" textLength="17.74" lengthAdjust="spacingAndGlyphs" fill="#000">28.4%</text>
<text x="331.69" y="413.20" font-size="6.5" text-anchor="end" textLength="55.14" lengthAdjust="spacingAndGlyphs" fill="#000">0.50 [0.02, 12.84]</text>
<text x="339.04" y="413.20" font-size="6.5" textLength="14.64" lengthAdjust="spacingAndGlyphs" fill="#000">1981</text>
<text x="6.00" y="421.10" font-size="6.5" textLength="52.73" lengthAdjust="spacingAndGlyphs" fill="#000">Cunningham 1983</text>
<text x="112.05" y="421.10" font-size="6.5" text-anchor="end" textLength="3.66" lengthAdjust="spacingAndGlyphs" fill="#000">0</text>
<text x="155.72" y="421.10" font-size="6.5" text-anchor="end" textLength="7.32" lengthAdjust="spacingAndGlyphs" fill="#000">54</text>
<text x="194.33" y="421.10" font-size="6.5" text-anchor="end" textLength="7.32" lengthAdjust="spacingAndGlyphs" fill="#000">13</text>
<text x="233.04" y="421.10" font-size="6.5" text-anchor="end" textLength="7.32" lengthAdjust="spacingAndGlyphs" fill="#000">54</text>
<text x="261.03" y="421.10" font-size="6.5" text-anchor="end" textLength="17.74" lengthAdjust="spacingAndGlyphs" fill="#000">36.5%</text>
<text x="331.69" y="421.10" font-size="6.5" text-anchor="end" textLength="51.20" lengthAdjust="spacingAndGlyphs" fill="#000">0.03 [0.00, 0.49]</text>
<text x="339.04" y="421.10" font-size="6.5" textLength="14.64" lengthAdjust="spacingAndGlyphs" fill="#000">1983</text>
<text x="6.00" y="436.50" font-size="6.5" font-weight="bold" textLength="43.51" lengthAdjust="spacingAndGlyphs" fill="#000">Total (95% CI)</text>
<text x="155.72" y="436.50" font-size="6.5" text-anchor="end" font-weight="bold" textLength="10.98" lengthAdjust="spacingAndGlyphs" fill="#000">115</text>
<text x="233.04" y="436.50" font-size="6.5" text-anchor="end" font-weight="bold" textLength="10.98" lengthAdjust="spacingAndGlyphs" fill="#000">122</text>
<text x="261.03" y="436.50" font-size="6.5" text-anchor="end" font-weight="bold" textLength="21.22" lengthAdjust="spacingAndGlyphs" fill="#000">100.0%</text>
<text x="331.69" y="436.50" font-size="6.5" text-anchor="end" font-weight="bold" textLength="51.98" lengthAdjust="spacingAndGlyphs" fill="#000">0.07 [0.01, 0.41]</text>
<text x="6.00" y="445.40" font-size="6.5" textLength="35.14" lengthAdjust="spacingAndGlyphs" fill="#000">Total events</text>
<text x="112.05" y="445.40" font-size="6.5" text-anchor="end" textLength="3.66" lengthAdjust="spacingAndGlyphs" fill="#000">0</text>
<text x="194.33" y="445.40" font-size="6.5" text-anchor="end" textLength="7.32" lengthAdjust="spacingAndGlyphs" fill="#000">21</text>
<text x="6.00" y="453.30" font-size="6.5" textLength="198.60" lengthAdjust="spacingAndGlyphs" fill="#000">Heterogeneity: Tau² = 0.02; Chi² = 2.02, df = 2 (P = 0.36); I² = 1%</text>
<text x="6.00" y="461.00" font-size="6.5" textLength="128.12" lengthAdjust="spacingAndGlyphs" fill="#000">Test for overall effect: Z = 2.96 (P = 0.003)</text>
<text x="359.10" y="456.80" font-size="6.5" textLength="12.81" lengthAdjust="spacingAndGlyphs" fill="#000" class="lt">0.01</text>
<text x="397.95" y="456.80" font-size="6.5" text-anchor="middle" textLength="9.15" lengthAdjust="spacingAndGlyphs" fill="#000" class="lt">0.1</text>
<text x="436.80" y="456.80" font-size="6.5" text-anchor="middle" textLength="3.66" lengthAdjust="spacingAndGlyphs" fill="#000" class="lt">1</text>
<text x="475.65" y="456.80" font-size="6.5" text-anchor="middle" textLength="7.32" lengthAdjust="spacingAndGlyphs" fill="#000" class="lt">10</text>
<text x="514.50" y="456.80" font-size="6.5" text-anchor="end" textLength="10.98" lengthAdjust="spacingAndGlyphs" fill="#000" class="lt">100</text>
<text x="434.30" y="463.70" font-size="6.5" text-anchor="end" font-weight="bold" textLength="57.07" lengthAdjust="spacingAndGlyphs" fill="#000" class="fv">Favours Prophylactic</text>
<text x="439.80" y="463.70" font-size="6.5" font-weight="bold" textLength="49.43" lengthAdjust="spacingAndGlyphs" fill="#000" class="fv">Favours Indicated</text>
</g>
</svg>
</body></html>
